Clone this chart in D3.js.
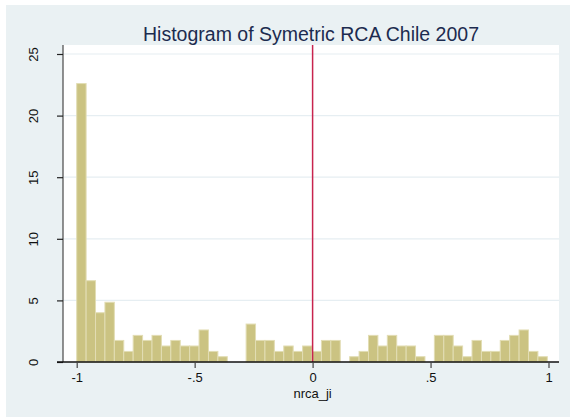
<!DOCTYPE html>
<html>
<head>
<meta charset="utf-8">
<script src="https://cdn.jsdelivr.net/npm/d3@7"></script>
<style>
  html, body { margin: 0; padding: 0; background: #ffffff; }
  svg { display: block; font-family: "Liberation Sans", Arial, sans-serif; }
</style>
</head>
<body>
<svg id="chart" width="570" height="417"></svg>
<script>
// ---- data ----
const titleText = "Histogram of Symetric RCA Chile 2007";
const xLabel = "nrca_ji";
const binStart = -1.0;
const binWidth = 0.0399;
const percents = [
  22.6, 6.6, 4.0, 4.85, 1.75, 0.86, 2.16, 1.75, 2.16, 1.3,
  1.75, 1.3, 1.3, 2.6, 0.86, 0.43, 0, 0, 3.08, 1.75,
  1.75, 0.86, 1.3, 0.86, 1.3, 0.86, 1.75, 1.75, 0, 0.43,
  0.86, 2.16, 1.3, 2.16, 1.3, 1.3, 0.43, 0, 2.16, 2.16,
  1.3, 0.43, 1.75, 0.86, 0.86, 1.75, 2.16, 2.6, 0.86, 0.43
];
const xTickValues = [-1, -0.5, 0, 0.5, 1];
const xTickLabels = ["-1", "-.5", "0", ".5", "1"];
const yTickValues = [0, 5, 10, 15, 20, 25];
const yTickLabels = ["0", "5", "10", "15", "20", "25"];
const refLineX = 0;

// ---- layout ----
const svg = d3.select("#chart");
const W = 570, H = 417;
const plot = { left: 63, right: 559, top: 45, bottom: 362 };

const x = d3.scaleLinear().domain([-1, 1]).range([76.7, 548.5]);
const y = d3.scaleLinear().domain([0, 25]).range([362, 54]);

// outer background
svg.append("rect").attr("x", 6).attr("y", 5).attr("width", W - 6).attr("height", H - 5)
  .attr("fill", "#eaf1f3");
// plot region
svg.append("rect").attr("x", plot.left).attr("y", plot.top)
  .attr("width", plot.right - plot.left).attr("height", plot.bottom - plot.top)
  .attr("fill", "#ffffff");

// gridlines
svg.append("g").selectAll("line")
  .data(yTickValues.filter(v => v > 0))
  .join("line")
  .attr("x1", plot.left).attr("x2", plot.right)
  .attr("y1", d => y(d)).attr("y2", d => y(d))
  .attr("stroke", "#e6eef2").attr("stroke-width", 1.2);

// bars
const bins = percents.map((v, i) => ({ x0: binStart + i * binWidth, x1: binStart + (i + 1) * binWidth, v }));
svg.append("g").selectAll("rect")
  .data(bins.filter(d => d.v > 0))
  .join("rect")
  .attr("x", d => x(d.x0))
  .attr("width", d => x(d.x1) - x(d.x0))
  .attr("y", d => y(d.v))
  .attr("height", d => y(0) - y(d.v))
  .attr("fill", "#cbc382")
  .attr("stroke", "#e2ddb4")
  .attr("stroke-width", 1);

// reference line
svg.append("line")
  .attr("x1", x(refLineX)).attr("x2", x(refLineX))
  .attr("y1", plot.top).attr("y2", plot.bottom)
  .attr("stroke", "#c8244e").attr("stroke-width", 1.5);

// y axis
const yAxis = d3.axisLeft(y).tickValues(yTickValues)
  .tickFormat((d, i) => yTickLabels[i]).tickSize(6).tickSizeOuter(0);
const gy = svg.append("g").attr("transform", `translate(${plot.left},0)`).call(yAxis);
gy.select(".domain").attr("d", `M0,${plot.top}V${plot.bottom}`).attr("stroke", "#555").attr("stroke-width", 1.3);
gy.selectAll(".tick line").attr("stroke", "#222").attr("stroke-width", 1.2);
gy.selectAll(".tick text")
  .attr("x", 0).attr("dy", null).attr("dx", null)
  .attr("transform", "translate(-30,0) rotate(-90)")
  .attr("text-anchor", "middle")
  .attr("dominant-baseline", "central")
  .attr("fill", "#111")
  .style("font-size", "13px");

// x axis
const xAxis = d3.axisBottom(x).tickValues(xTickValues)
  .tickFormat((d, i) => xTickLabels[i]).tickSize(6).tickSizeOuter(0);
const gx = svg.append("g").attr("transform", `translate(0,${plot.bottom})`).call(xAxis);
gx.select(".domain").attr("d", `M${plot.left - 6},0H${plot.right}`).attr("stroke", "#111").attr("stroke-width", 1.4);
gx.selectAll(".tick line").attr("stroke", "#444").attr("stroke-width", 1.2);
gx.selectAll(".tick text").attr("y", 11).attr("dy", "0.71em")
  .attr("fill", "#111").style("font-size", "13px");

// axis title
svg.append("text").attr("x", x(0)).attr("y", 398)
  .attr("text-anchor", "middle").attr("fill", "#111")
  .style("font-size", "13px").text(xLabel);

// title
svg.append("text").attr("x", 311).attr("y", 41)
  .attr("text-anchor", "middle").attr("fill", "#1c2b4f")
  .style("font-size", "19.5px").text(titleText);
</script>
</body>
</html>
